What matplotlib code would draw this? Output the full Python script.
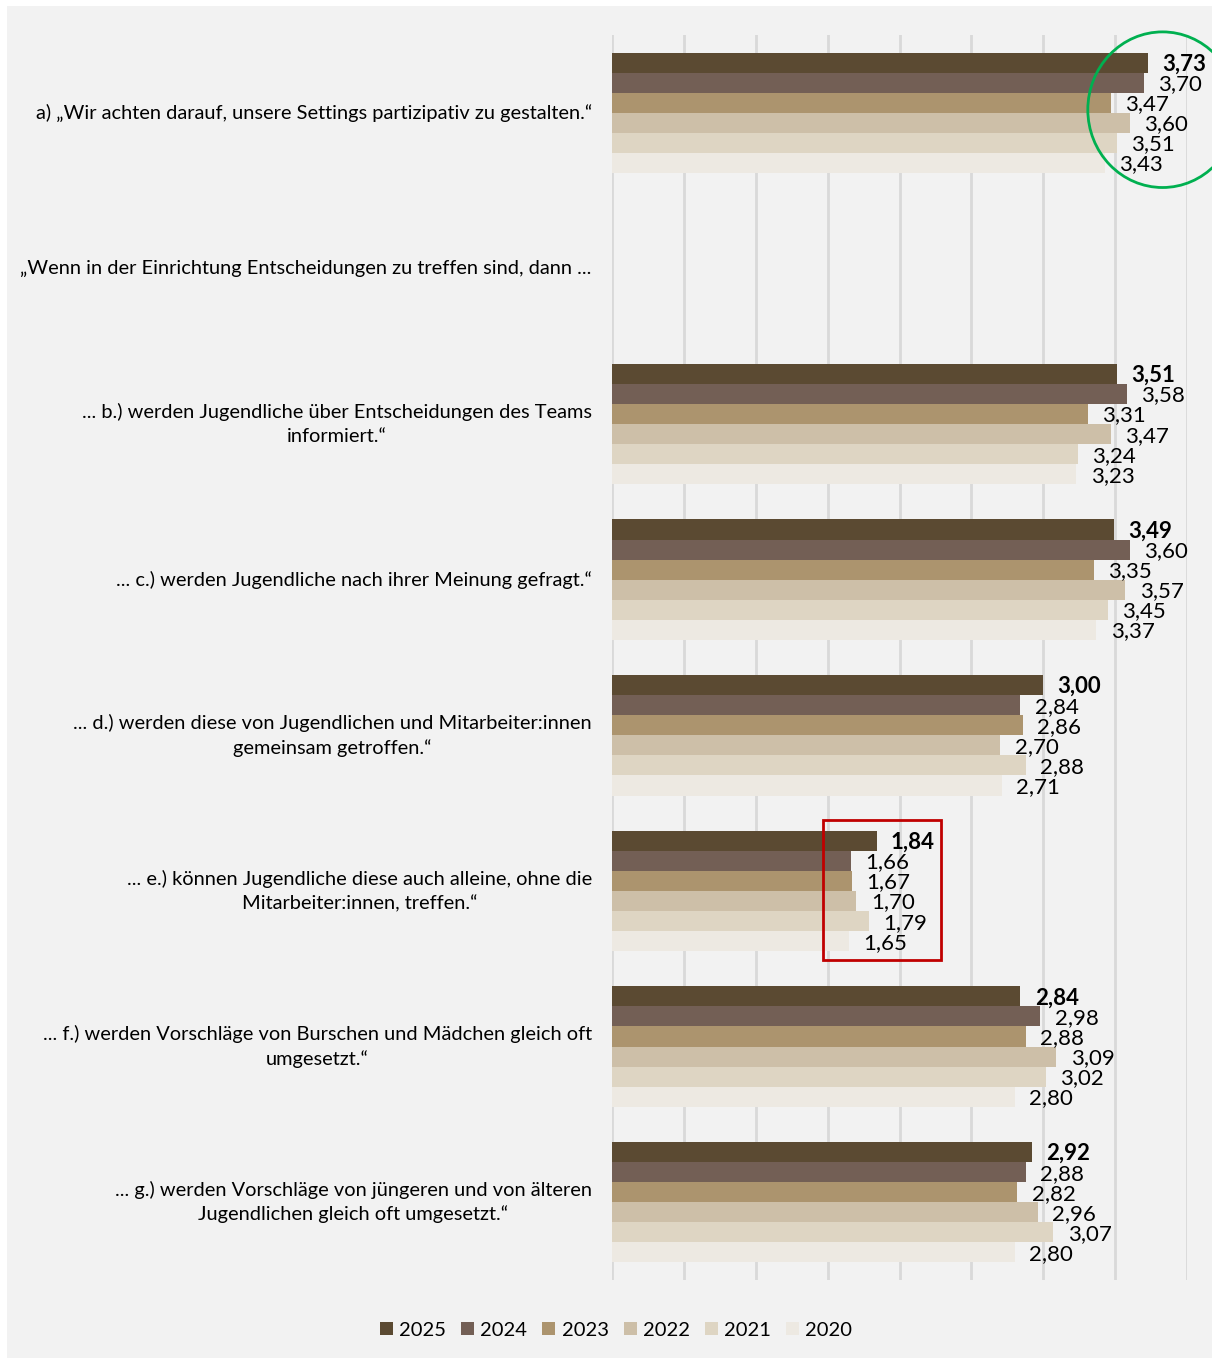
import numpy as np
import matplotlib
matplotlib.use('Agg')
from matplotlib import pyplot as plt
from matplotlib.patches import Rectangle, Ellipse

plt.rcParams['font.family'] = ['Lato', 'DejaVu Sans']

# Daten
labels = [
    'a) \u201eWir achten darauf, unsere Settings partizipativ zu gestalten.\u201c',
    '\u201eWenn in der Einrichtung Entscheidungen zu treffen sind, dann ...',
    '... b.) werden Jugendliche \u00fcber Entscheidungen des Teams\ninformiert.\u201c',
    '... c.) werden Jugendliche nach ihrer Meinung gefragt.\u201c',
    '... d.) werden diese von Jugendlichen und Mitarbeiter:innen\ngemeinsam getroffen.\u201c',
    '... e.) k\u00f6nnen Jugendliche diese auch alleine, ohne die\nMitarbeiter:innen, treffen.\u201c',
    '... f.) werden Vorschl\u00e4ge von Burschen und M\u00e4dchen gleich oft\numgesetzt.\u201c',
    '... g.) werden Vorschl\u00e4ge von j\u00fcngeren und von \u00e4lteren\nJugendlichen gleich oft umgesetzt.\u201c',
]
years = ['2025', '2024', '2023', '2022', '2021', '2020']
nan = np.nan
v2025 = [3.73, nan, 3.51, 3.49, 3.00, 1.84, 2.84, 2.92]
v2024 = [3.70, nan, 3.58, 3.60, 2.84, 1.66, 2.98, 2.88]
v2023 = [3.47, nan, 3.31, 3.35, 2.86, 1.67, 2.88, 2.82]
v2022 = [3.60, nan, 3.47, 3.57, 2.70, 1.70, 3.09, 2.96]
v2021 = [3.51, nan, 3.24, 3.45, 2.88, 1.79, 3.02, 3.07]
v2020 = [3.43, nan, 3.23, 3.37, 2.71, 1.65, 2.80, 2.80]
series = [v2025, v2024, v2023, v2022, v2021, v2020]
colors = ['#5b4a32', '#735f55', '#ac946e', '#cdbfa8', '#ded5c3', '#ede9e2']

W, H = 1212, 1360
fig = plt.figure(figsize=(W / 100, H / 100), dpi=100)
fig.patch.set_facecolor('white')
fig.patches.append(Rectangle((7 / W, 1 - 1358 / H), (W - 7) / W, (1358 - 6) / H,
                             transform=fig.transFigure, facecolor='#f2f2f2',
                             edgecolor='none', zorder=-10))

ax = fig.add_axes([612 / W, 1 - 1280 / H, (1187 - 612) / W, (1280 - 35) / H])
ax.set_facecolor('none')

n = len(labels)
pos = np.arange(n)
bh = 0.129
for i, (vals, c, yr) in enumerate(zip(series, colors, years)):
    y = pos - 3 * bh + (i + 0.5) * bh
    ax.barh(y, vals, height=bh, color=c, label=yr, zorder=3)
    for yy, v in zip(y, vals):
        if np.isnan(v):
            continue
        ax.text(v + 0.1, yy + 0.01, f'{v:.2f}'.replace('.', ','), va='center', ha='left',
                fontsize=16, fontweight='bold' if i == 0 else 'normal', zorder=5)

ax.set_xlim(0, 4)
ax.set_ylim(n - 0.5, -0.5)
ax.set_xticks(np.arange(0, 4.01, 0.5))
ax.set_xticklabels([])
ax.tick_params(length=0)
ax.grid(axis='x', color='#d9d9d9', linewidth=2, zorder=0)
ax.set_yticks(pos)
ax.set_yticklabels([])
for s in ax.spines.values():
    s.set_visible(False)

for p, lab in zip(pos, labels):
    ax.text(-0.14, p, lab, ha='right', va='center', multialignment='center',
            fontsize=14.4, linespacing=1.45)

# Markierungen
ax.add_patch(Ellipse((3.83, -0.02), 1.04, 1.0, fill=False, edgecolor='#00b050',
                     linewidth=2, clip_on=False, zorder=6))
ax.add_patch(Rectangle((1.47, 4.545), 0.82, 0.9, fill=False, edgecolor='#c00000',
                       linewidth=2, clip_on=False, zorder=6))

leg = fig.legend(loc='center', bbox_to_anchor=(616 / W, 1 - 1330 / H), ncol=6,
                 frameon=False, fontsize=14.5, handlelength=0.65, handleheight=0.65,
                 handletextpad=0.3, columnspacing=0.75)

plt.savefig('out.png', dpi=100)
print('finish')
